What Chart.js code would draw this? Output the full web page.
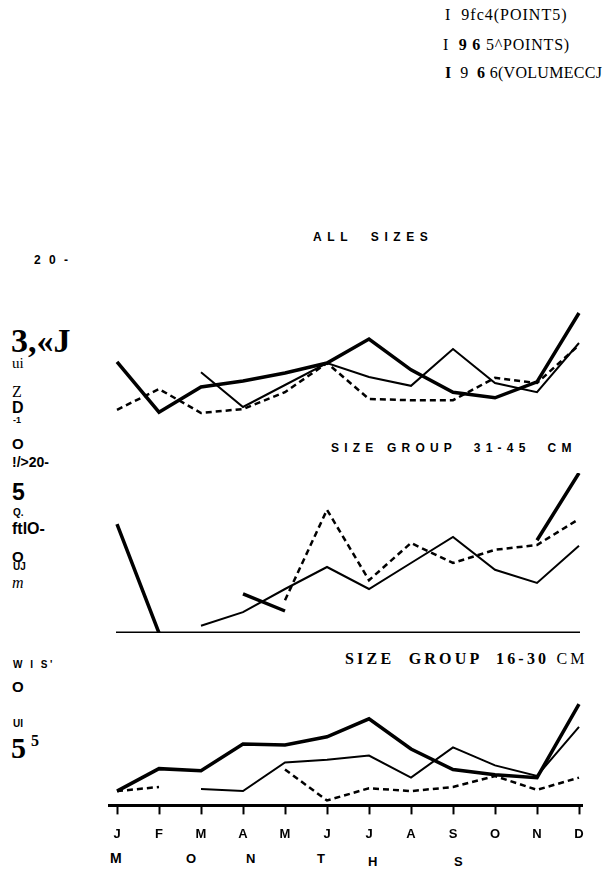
<!DOCTYPE html>
<html>
<head>
<meta charset="utf-8">
<script src="https://cdn.jsdelivr.net/npm/chart.js@4.4.1/dist/chart.umd.min.js"></script>
<style>
  html, body { margin: 0; padding: 0; background: #fff; }
  body { width: 609px; height: 869px; position: relative; overflow: hidden; }
  .t { position: absolute; white-space: pre; color: #000; line-height: 1; }
  .sans { font-family: "Liberation Sans", Arial, sans-serif; font-weight: bold; }
  .serif { font-family: "Liberation Serif", "Times New Roman", serif; }
  canvas { position: absolute; left: 0; }
</style>
</head>
<body>

<!-- legend -->
<div class="t serif" style="left:445px;top:7px;font-size:16px;letter-spacing:1px">I  9fc4(POINT5)</div>
<div class="t serif" style="left:443px;top:37px;font-size:16px;letter-spacing:0.8px">I  <b>9 6</b> 5^POINTS)</div>
<div class="t serif" style="left:445px;top:65px;font-size:16px;letter-spacing:0.3px"><b>I</b>  9  <b>6</b> 6(VOLUMECCJ</div>

<!-- panel titles -->
<div class="t sans" style="left:313px;top:231px;font-size:12px;letter-spacing:5.6px">ALL  SIZES</div>
<div class="t sans" style="left:331px;top:442px;font-size:12px;letter-spacing:5.2px">SIZE GROUP  31-45  CM</div>
<div class="t serif" style="left:345px;top:651px;font-size:16px;font-weight:bold;letter-spacing:3.2px">SIZE  GROUP  16-30 <span style="font-weight:normal">CM</span></div>

<!-- left side labels (scanned axis title and ticks) -->
<div class="t sans" style="left:34px;top:254px;font-size:12px;letter-spacing:2.5px">2 0 -</div>
<div class="t serif" style="left:11px;top:324px;font-size:34px;font-weight:bold">3,«J</div>
<div class="t serif" style="left:12px;top:356px;font-size:15px">ui</div>
<div class="t serif" style="left:12px;top:384px;font-size:16px">Z</div>
<div class="t sans" style="left:12px;top:400px;font-size:16px">D</div>
<div class="t sans" style="left:13px;top:416px;font-size:9px">-1</div>
<div class="t sans" style="left:12px;top:436px;font-size:15px">O</div>
<div class="t sans" style="left:12px;top:455px;font-size:14px">!/&gt;20-</div>
<div class="t sans" style="left:12px;top:481px;font-size:23px">5</div>
<div class="t sans" style="left:13px;top:508px;font-size:10px">Q.</div>
<div class="t sans" style="left:12px;top:521px;font-size:16px">ftlO-</div>
<div class="t sans" style="left:12px;top:549px;font-size:15px">O</div>
<div class="t sans" style="left:13px;top:562px;font-size:10px">UJ</div>
<div class="t serif" style="left:12px;top:575px;font-size:16px;font-style:italic">m</div>
<div class="t sans" style="left:13px;top:660px;font-size:10px;letter-spacing:2.5px">W I S'</div>
<div class="t sans" style="left:12px;top:679px;font-size:15px">O</div>
<div class="t sans" style="left:13px;top:719px;font-size:10px">UI</div>
<div class="t serif" style="left:11px;top:733px;font-size:30px;font-weight:bold">5<span style="font-size:16px;vertical-align:top;margin-left:5px">5</span></div>

<!-- axis title -->
<div class="t sans" style="left:110px;top:851px;font-size:14px">M</div>
<div class="t sans" style="left:186px;top:852px;font-size:13px">O</div>
<div class="t sans" style="left:246px;top:852px;font-size:13px">N</div>
<div class="t sans" style="left:317px;top:852px;font-size:13px">T</div>
<div class="t sans" style="left:368px;top:855px;font-size:13px">H</div>
<div class="t sans" style="left:454px;top:855px;font-size:13px">S</div>

<canvas id="p1"></canvas>
<canvas id="p2"></canvas>
<canvas id="p3"></canvas>

<script>
// months along the x axis
const months = ['J', 'F', 'M', 'A', 'M', 'J', 'J', 'A', 'S', 'O', 'N', 'D'];
const seriesNames = ['1964 (points)', '1965 (points)', '1966 (volume cc)'];

// ALL SIZES
const all1964 = [null, null, 6.6, 2.25, 5.0, 7.75, 6.0, 4.9, 9.5, 5.25, 4.1, 10.25];
const all1965 = [7.9, 1.6, 4.75, 5.5, 6.5, 7.75, 10.75, 6.9, 4.1, 3.4, 5.4, 14.0];
const all1966 = [1.9, 4.5, 1.5, 2.0, 4.1, 7.75, 3.25, 3.1, 3.1, 5.9, 5.25, 10.0];

// SIZE GROUP 31-45 CM
const big1964 = [null, null, 0.9, 2.6, 5.5, 8.25, 5.5, 8.75, 12.0, 7.9, 6.25, 10.9];
const big1965 = [13.6, 0, null, 4.9, 2.75, null, null, null, null, null, 11.6, 20.0];
const big1966 = [null, null, null, null, 4.1, 15.4, 6.6, 11.25, 8.75, 10.4, 11.0, 14.25];

// SIZE GROUP 16-30 CM
const small1964 = [null, null, 2.0, 1.75, 5.25, 5.6, 6.1, 3.4, 7.1, 4.9, 3.6, 9.6];
const small1965 = [1.75, 4.5, 4.25, 7.5, 7.4, 8.4, 10.6, 6.9, 4.4, 3.75, 3.4, 12.4];
const small1966 = [1.75, 2.25, null, null, 4.4, 0.6, 2.1, 1.75, 2.25, 3.6, 1.9, 3.4];

const yMax = 20;

function sets(a, b, c) {
  return [
    { label: seriesNames[0], data: a, borderColor: '#000', borderWidth: 2, pointRadius: 0, tension: 0, clip: false },
    { label: seriesNames[1], data: b, borderColor: '#000', borderWidth: 3.5, pointRadius: 0, tension: 0, clip: false },
    { label: seriesNames[2], data: c, borderColor: '#000', borderWidth: 2.5, borderDash: [6, 4], pointRadius: 0, tension: 0, clip: false }
  ];
}

// draws a heavy base line at value 0
const baseLine = {
  id: 'baseLine',
  afterDraw(chart, args, opts) {
    if (!opts.show) return;
    const { ctx, chartArea, scales } = chart;
    const y = scales.y.getPixelForValue(0);
    ctx.save();
    ctx.strokeStyle = '#000';
    ctx.lineWidth = 3;
    ctx.beginPath();
    ctx.moveTo(chartArea.left - opts.left, y);
    ctx.lineTo(chartArea.right + opts.right, y);
    ctx.stroke();
    ctx.restore();
  }
};

function panel(id, top, bottom, a, b, c, withAxis, showBase) {
  const el = document.getElementById(id);
  const extra = withAxis ? 52 : 0;
  el.style.top = top + 'px';
  el.width = 609;
  el.height = bottom - top + extra;
  el.style.width = '609px';
  el.style.height = (bottom - top + extra) + 'px';
  new Chart(el, {
    type: 'line',
    data: { labels: months, datasets: sets(a, b, c) },
    plugins: [baseLine],
    options: {
      responsive: false,
      animation: false,
      spanGaps: false,
      layout: { padding: { left: 117, right: 30, top: 0, bottom: 0 } },
      plugins: {
        legend: { display: false },
        tooltip: { enabled: false },
        baseLine: { show: showBase, left: withAxis ? 9 : 1, right: withAxis ? 4 : 1 }
      },
      scales: {
        y: { display: false, min: 0, max: yMax },
        x: withAxis ? {
          offset: false,
          grid: { display: true, drawOnChartArea: false, drawTicks: true, tickLength: 9, tickWidth: 2, color: '#000' },
          border: { display: true, color: '#000', width: 3 },
          ticks: { color: '#000', padding: 12, font: { family: 'Liberation Sans', weight: 'bold', size: 13 }, maxRotation: 0, autoSkip: false }
        } : { display: false, offset: false }
      }
    }
  });
}

panel('p1', 265, 425, all1964, all1965, all1966, false, false);
panel('p2', 473, 633, big1964, big1965, big1966, false, true);
panel('p3', 642, 802, small1964, small1965, small1966, true, true);
</script>
</body>
</html>
